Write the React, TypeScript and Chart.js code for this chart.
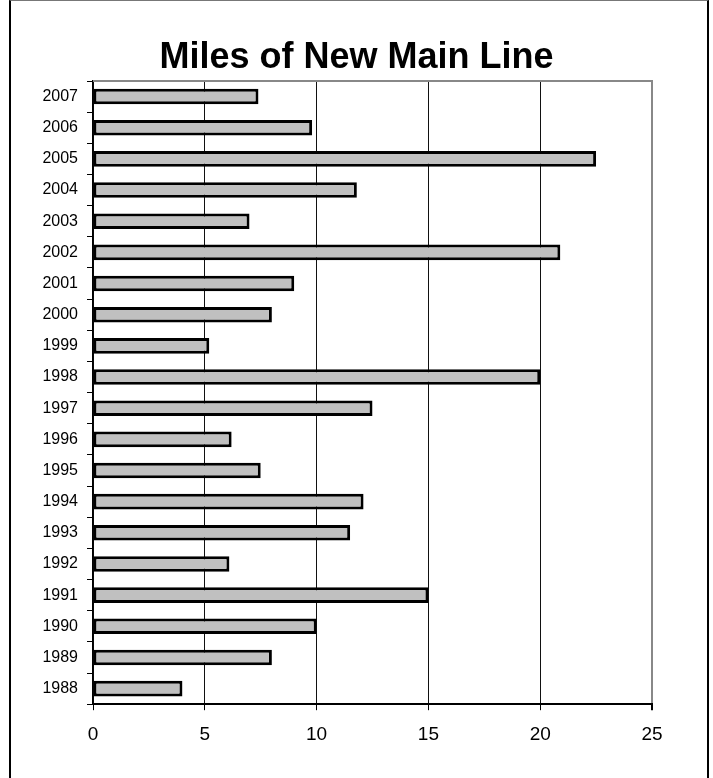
import React, { useEffect, useRef } from "react";
import { Chart, registerables } from "chart.js";

Chart.register(...registerables);

const years: string[] = [
  "1988", "1989", "1990", "1991", "1992", "1993", "1994", "1995", "1996", "1997",
  "1998", "1999", "2000", "2001", "2002", "2003", "2004", "2005", "2006", "2007",
];
const miles: number[] = [
  4.0, 8.0, 10.0, 15.0, 6.1, 11.5, 12.1, 7.5, 6.2, 12.5,
  20.0, 5.2, 8.0, 9.0, 20.9, 7.0, 11.8, 22.5, 9.8, 7.4,
];
const xTicks: number[] = [0, 5, 10, 15, 20, 25];
const titleText = "Miles of New Main Line";

const FONT = "'Liberation Sans', Arial, Helvetica, sans-serif";

const frameTop = {
  id: "frameTop",
  beforeDatasetsDraw(chart: any) {
    const { ctx, chartArea } = chart;
    ctx.save();
    ctx.strokeStyle = "#888888";
    ctx.lineWidth = 2;
    ctx.beginPath();
    ctx.moveTo(chartArea.left, chartArea.top);
    ctx.lineTo(chartArea.right + 1, chartArea.top);
    ctx.stroke();
    ctx.restore();
  },
};

// Title centred on the whole canvas (the built-in title centres on the padded box)
const centredTitle = {
  id: "centredTitle",
  afterDraw(chart: any) {
    const { ctx } = chart;
    ctx.save();
    ctx.fillStyle = "#000000";
    ctx.font = `bold 36px ${FONT}`;
    ctx.textAlign = "center";
    ctx.textBaseline = "alphabetic";
    ctx.fillText(titleText, chart.width / 2, chart.chartArea.top - 13);
    ctx.restore();
  },
};

export default function App() {
  const ref = useRef<HTMLCanvasElement | null>(null);

  useEffect(() => {
    if (!ref.current) return;
    const chart = new Chart(ref.current, {
      type: "bar",
      data: {
        labels: years,
        datasets: [
          {
            data: miles,
            backgroundColor: "#C0C0C0",
            borderColor: "#000000",
            borderWidth: 3,
            borderSkipped: false,
            barPercentage: 0.5,
            categoryPercentage: 1,
          },
        ],
      },
      options: {
        indexAxis: "y",
        responsive: false,
        animation: false,
        devicePixelRatio: 1,
        layout: { padding: { top: 81, left: 13, right: 61, bottom: 19 } },
        plugins: {
          legend: { display: false },
          tooltip: { enabled: false },
          title: { display: false },
        },
        scales: {
          x: {
            type: "linear",
            min: 0,
            max: 25,
            afterBuildTicks: (scale: any) => {
              scale.ticks = xTicks.map((v) => ({ value: v }));
            },
            ticks: {
              color: "#000000",
              font: { family: FONT, size: 19 },
              padding: 13,
              maxRotation: 0,
            },
            grid: {
              drawOnChartArea: true,
              drawTicks: true,
              tickLength: 6,
              tickColor: "#000000",
              color: (ctx: any) => (ctx.tick && ctx.tick.value === 25 ? "#888888" : "#111111"),
              lineWidth: (ctx: any) => (ctx.tick && ctx.tick.value === 25 ? 2 : 1),
            },
            border: { display: true, color: "#000000", width: 2 },
          },
          y: {
            type: "category",
            reverse: true,
            afterFit: (scale: any) => {
              scale.width = 80;
            },
            ticks: {
              color: "#000000",
              font: { family: FONT, size: 16 },
              padding: 9,
            },
            grid: {
              drawOnChartArea: false,
              drawTicks: true,
              tickLength: 6,
              tickColor: "#000000",
              offset: true,
            },
            border: { display: true, color: "#000000", width: 1.5 },
          },
        },
      },
      plugins: [frameTop, centredTitle],
    });
    return () => chart.destroy();
  }, []);

  return (
    <div>
      <div
        style={{
          position: "absolute",
          left: 9,
          top: 0,
          width: 700,
          height: 778,
          boxSizing: "border-box",
          borderLeft: "2px solid #000",
          borderRight: "2px solid #000",
          borderTop: "1px solid #777",
          background: "#fff",
        }}
      />
      <canvas
        ref={ref}
        width={713}
        height={778}
        style={{ position: "absolute", left: 0, top: 0, width: 713, height: 778 }}
      />
    </div>
  );
}
